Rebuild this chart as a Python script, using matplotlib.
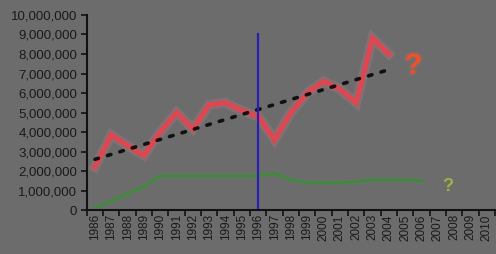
import matplotlib
matplotlib.use("Agg")
import matplotlib.pyplot as plt
import matplotlib.patheffects as pe
from matplotlib.ticker import FuncFormatter

# data
years = list(range(1986, 2011))
red_years = list(range(1986, 2005))
red_vals = [2.2e6, 3.85e6, 3.3e6, 2.8e6, 4.0e6, 5.0e6, 4.15e6, 5.4e6, 5.5e6, 5.1e6,
            4.8e6, 3.6e6, 5.0e6, 6.0e6, 6.6e6, 6.2e6, 5.5e6, 8.8e6, 8.0e6]
green_years = list(range(1986, 2007))
green_vals = [0.1e6, 0.45e6, 0.85e6, 1.2e6, 1.75e6, 1.75e6, 1.75e6, 1.75e6, 1.75e6, 1.75e6,
              1.75e6, 1.9e6, 1.55e6, 1.4e6, 1.4e6, 1.4e6, 1.45e6, 1.55e6, 1.55e6, 1.55e6, 1.5e6]
trend_years = [1986, 2004]
trend_vals = [2.6e6, 7.2e6]
marker_year = 1996
marker_top = 9.0e6

bg = "#6c6c6c"
plt.rcParams['font.family'] = ['Liberation Sans', 'DejaVu Sans']

fig = plt.figure(figsize=(4.96, 2.54), dpi=100, facecolor=bg)
ax = fig.add_axes([0.175, 0.173, 0.823, 0.768], facecolor=bg)

# green series
ax.plot(green_years, green_vals, color="#3f8a3a", lw=1.6,
        path_effects=[pe.Stroke(linewidth=4, foreground="#4f8a4a", alpha=0.35), pe.Normal()])

# red series with soft glow
ax.plot(red_years, red_vals, color="#e0464f", lw=3.5, solid_joinstyle="miter",
        path_effects=[pe.Stroke(linewidth=7, foreground="#b07a86", alpha=0.35), pe.Normal()])

# dotted trend
ax.plot(trend_years, trend_vals, color="#111111", lw=2.6, ls=(0, (1.0, 2.6)),
        dash_capstyle="round")

# vertical marker
ax.plot([marker_year, marker_year], [0, marker_top], color="#2a1fb0", lw=1.6)

# question marks
ax.text(2005.5, 7.4e6, "?", color="#f0502a", fontsize=21, fontweight="bold",
        ha="center", va="center",
        path_effects=[pe.Stroke(linewidth=3, foreground="#9a6a60", alpha=0.4), pe.Normal()])
ax.text(2007.6, 1.2e6, "?", color="#a4b040", fontsize=13, fontweight="bold",
        ha="center", va="center")

ax.set_xlim(1985.5, 2010.5)
ax.set_ylim(0, 10e6)
ax.set_yticks([i * 1e6 for i in range(11)])
ax.yaxis.set_major_formatter(FuncFormatter(lambda v, p: f"{int(v):,}"))

ax.set_xticks([y - 0.5 for y in years] + [2010.5])
ax.set_xticklabels([])
ax.set_xticks(years, minor=True)
ax.set_xticklabels([str(y) for y in years], minor=True, rotation=90, fontsize=8.5,
                   color="#1a1a1a")
ax.tick_params(axis="x", which="minor", length=0, pad=3)
ax.tick_params(axis="x", which="major", length=4, width=1.2, color="#111111")
ax.tick_params(axis="y", length=4, width=1.2, color="#111111", labelsize=9.5,
               labelcolor="#1a1a1a", pad=3)

for s in ["top", "right"]:
    ax.spines[s].set_visible(False)
for s in ["left", "bottom"]:
    ax.spines[s].set_color("#111111")
    ax.spines[s].set_linewidth(1.5)

fig.savefig("out.png", dpi=100, facecolor=bg)
